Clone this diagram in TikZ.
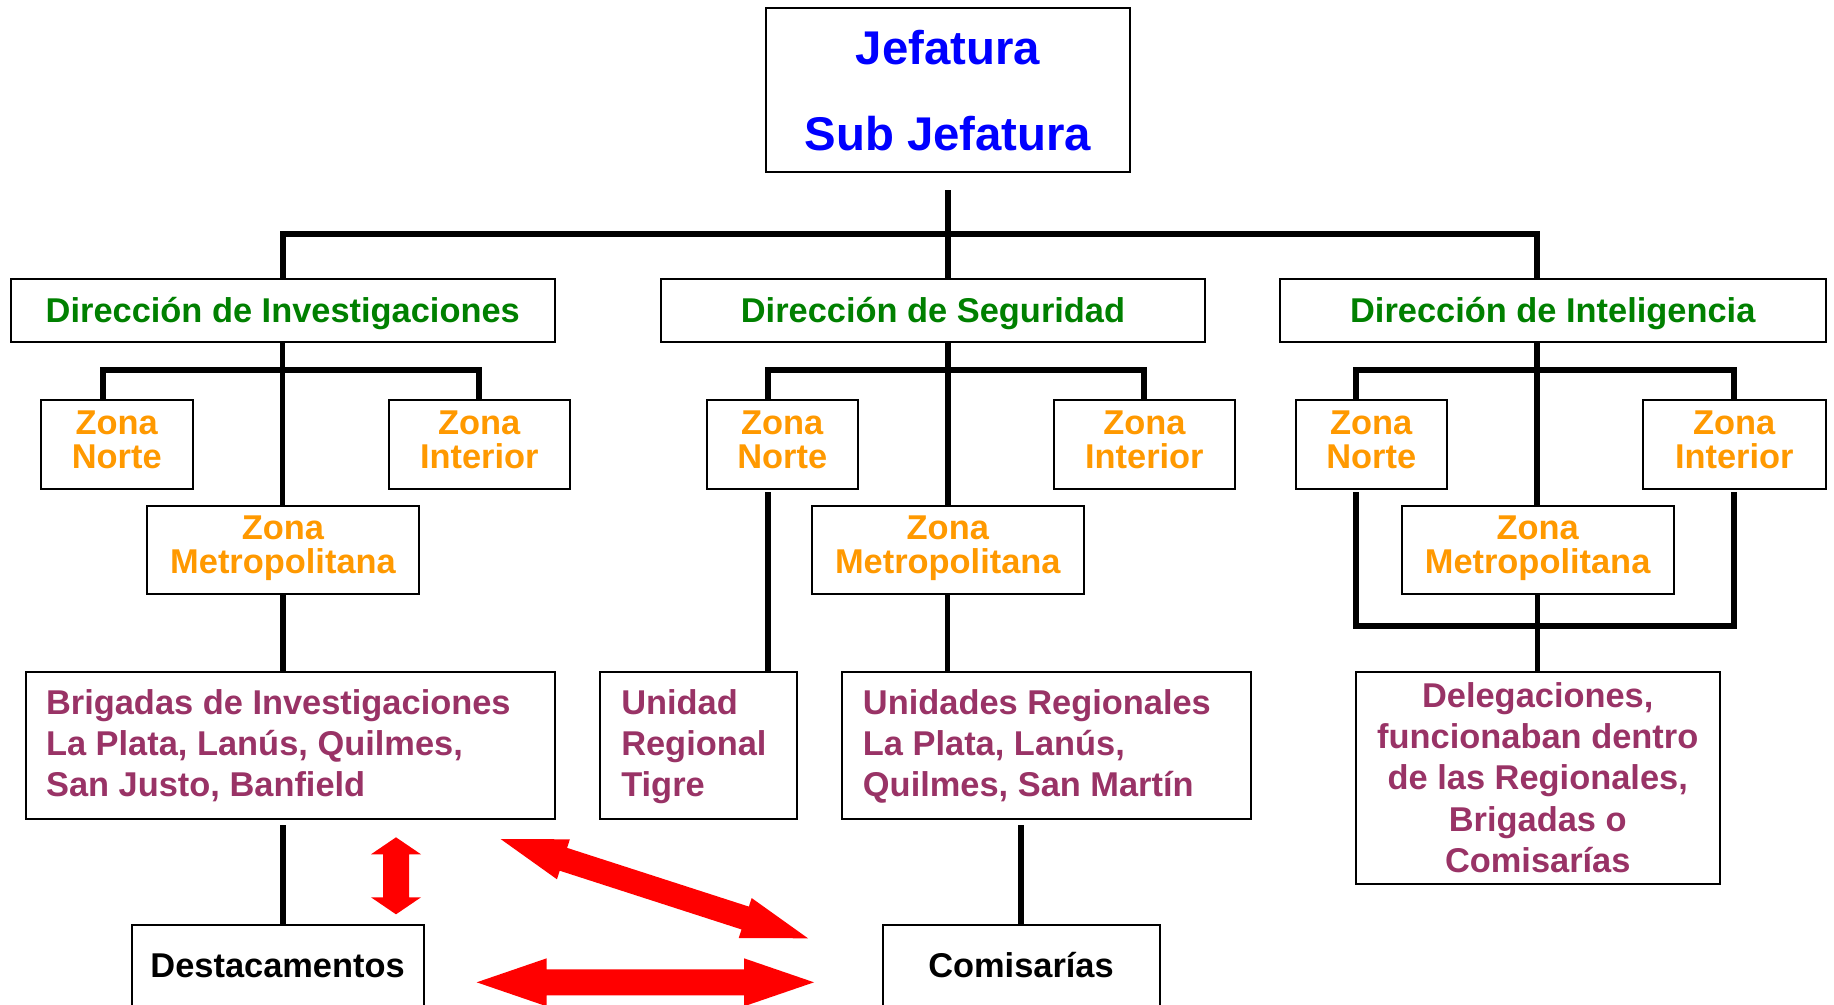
\documentclass[tikz,border=0pt]{standalone}
\usepackage{fontspec}
\setmainfont{Liberation Sans}
\usetikzlibrary{calc,fit}
\definecolor{jblue}{RGB}{0,0,255}
\definecolor{dgreen}{RGB}{0,128,0}
\definecolor{zorange}{RGB}{255,153,0}
\definecolor{umaroon}{RGB}{153,51,102}
\definecolor{ared}{RGB}{255,0,0}
\newcommand{\blockarrow}[5]{%
  \coordinate (ba1) at ($(#1)!#3!(#2)$);
  \coordinate (ba2) at ($(#2)!#3!(#1)$);
  \fill[ared] (#1) -- ($(ba1)!#4!90:(#2)$) -- ($(ba1)!#5!90:(#2)$)
    -- ($(ba2)!#5!-90:(#1)$) -- ($(ba2)!#4!-90:(#1)$) -- (#2)
    -- ($(ba2)!#4!90:(#1)$) -- ($(ba2)!#5!90:(#1)$)
    -- ($(ba1)!#5!-90:(#2)$) -- ($(ba1)!#4!-90:(#2)$) -- cycle;}
\begin{document}
\begin{tikzpicture}[x=0.75pt,y=-0.75pt,
  box/.style={draw=black, line width=1.5pt, inner sep=0pt},
  conn/.style={line width=4pt, black},
  barline/.style={line width=4.5pt, black, line cap=rect},
  ttl/.style={font=\bfseries\fontsize{35.5}{64.5}\selectfont, text=jblue, align=center, inner sep=0pt, anchor=base},
  dirtext/.style={font=\bfseries\fontsize{25.8}{31}\selectfont, text=dgreen, inner sep=0pt, anchor=base},
  zone/.style={font=\bfseries\fontsize{25.8}{25.5}\selectfont, text=zorange, align=center, inner sep=0pt, anchor=base},
  unit/.style={font=\bfseries\fontsize{25.8}{31}\selectfont, text=umaroon, align=left, inner sep=0pt, anchor=base west},
  unitc/.style={font=\bfseries\fontsize{25.8}{31}\selectfont, text=umaroon, align=center, inner sep=0pt, anchor=base},
  blk/.style={font=\bfseries\fontsize{25.8}{31}\selectfont, text=black, inner sep=0pt, anchor=base}
]
\useasboundingbox[fill=white] (0,0) rectangle (1834,1004);

% boxes
\node[box, fit={(766,8) (1130,172)}] (jef) {};
\node[box, fit={(10.6,279) (555,342)}] (dinv) {};
\node[box, fit={(661,279) (1205,342)}] (dseg) {};
\node[box, fit={(1280,279) (1825.5,342)}] (dint) {};
\node[box, fit={(41,400) (192.5,489)}] (zni) {};
\node[box, fit={(388.5,400) (570,489)}] (zii) {};
\node[box, fit={(147,505.7) (419,594)}] (zmi) {};
\node[box, fit={(706.5,400) (858,489)}] (zns) {};
\node[box, fit={(1053.7,400) (1235,489)}] (zis) {};
\node[box, fit={(811.6,505.7) (1084,594)}] (zms) {};
\node[box, fit={(1295.5,400) (1447,489)}] (znt) {};
\node[box, fit={(1643,400) (1825.5,489)}] (zit) {};
\node[box, fit={(1401.5,505.7) (1673.7,594)}] (zmt) {};
\node[box, fit={(26.4,672) (555,819)}] (brig) {};
\node[box, fit={(600,672) (797,819)}] (tig) {};
\node[box, fit={(842,672) (1250.5,819)}] (ureg) {};
\node[box, fit={(1356,672) (1719.5,884)}] (del) {};
\node[box, fit={(131.5,925) (423.7,1015)}] (dest) {};
\node[box, fit={(882.5,925) (1159.5,1015)}] (comi) {};

% texts (anchor = baseline of the last line)
\node[ttl] (t-jef) at (jef.center |- 0,150) {Jefatura\\Sub Jefatura};
\node[dirtext] (t-dinv) at (dinv.center |- 0,322) {Dirección de Investigaciones};
\node[dirtext] (t-dseg) at (dseg.center |- 0,322) {Dirección de Seguridad};
\node[dirtext] (t-dint) at (dint.center |- 0,322) {Dirección de Inteligencia};
\node[zone] (t-zni) at (zni.center |- 0,468) {Zona\\Norte};
\node[zone] (t-zii) at (zii.center |- 0,468) {Zona\\Interior};
\node[zone] (t-zmi) at (zmi.center |- 0,573.3) {Zona\\Metropolitana};
\node[zone] (t-zns) at (zns.center |- 0,468) {Zona\\Norte};
\node[zone] (t-zis) at (zis.center |- 0,468) {Zona\\Interior};
\node[zone] (t-zms) at (zms.center |- 0,573.3) {Zona\\Metropolitana};
\node[zone] (t-znt) at (znt.center |- 0,468) {Zona\\Norte};
\node[zone] (t-zit) at (zit.center |- 0,468) {Zona\\Interior};
\node[zone] (t-zmt) at (zmt.center |- 0,573.3) {Zona\\Metropolitana};
\node[unit] (t-brig) at (45.8,796.7) {Brigadas de Investigaciones\\La Plata, Lanús, Quilmes,\\San Justo, Banfield};
\node[unit] (t-tig) at (621,796.7) {Unidad\\Regional\\Tigre};
\node[unit] (t-ureg) at (862.7,796.7) {Unidades Regionales\\La Plata, Lanús,\\Quilmes, San Martín};
\node[unitc] (t-del) at (del.center |- 0,872.5) {Delegaciones,\\funcionaban dentro\\de las Regionales,\\Brigadas o\\Comisarías};
\node[blk] (t-dest) at (dest.center |- 0,977.7) {Destacamentos};
\node[blk] (t-comi) at (comi.center |- 0,977.7) {Comisarías};

% junction coordinates
\coordinate (tbl) at (283,234);
\coordinate (tbr) at (1537,234);
\coordinate (ibl) at (103,370);
\coordinate (ibr) at (479,370);
\coordinate (sbl) at (768,370);
\coordinate (sbr) at (1144,370);
\coordinate (nbl) at (1356,370);
\coordinate (nbr) at (1734,370);
\coordinate (lbl) at (1356,626);
\coordinate (lbr) at (1734,626);

% top level
\draw[conn, shorten <=12.75pt] (jef.south) -- (jef.south |- dseg.north);
\draw[barline] (tbl) -- (tbr);
\draw[conn] (tbl) -- (tbl |- dinv.north);
\draw[conn] (tbr) -- (tbr |- dint.north);

% investigaciones
\draw[conn] (dinv.south) -- (dinv.south |- zmi.north);
\draw[barline] (ibl) -- (ibr);
\draw[conn] (ibl) -- (ibl |- zni.north);
\draw[conn] (ibr) -- (ibr |- zii.north);
\draw[conn] (zmi.south) -- (zmi.south |- brig.north);
\draw[conn, shorten <=3.75pt] (brig.south -| zmi.south) -- (dest.north -| zmi.south);

% seguridad
\draw[conn] (jef.south |- dseg.south) -- (jef.south |- zms.north);
\draw[barline] (sbl) -- (sbr);
\draw[conn] (sbl) -- (sbl |- zns.north);
\draw[conn] (sbr) -- (sbr |- zis.north);
\draw[conn, shorten <=1.5pt] (zns.south -| sbl) -- (tig.north -| sbl);
\draw[conn] (zms.south) -- (zms.south |- ureg.north);
\draw[conn, shorten <=3.75pt] (ureg.south -| comi.north) -- (comi.north);

% inteligencia
\draw[conn] (tbr |- dint.south) -- (tbr |- zmt.north);
\draw[barline] (nbl) -- (nbr);
\draw[conn] (nbl) -- (nbl |- znt.north);
\draw[conn] (nbr) -- (nbr |- zit.north);
\draw[conn, shorten <=1.5pt] (znt.south -| lbl) -- (lbl);
\draw[conn, shorten <=1.5pt] (zit.south -| lbr) -- (lbr);
\draw[barline] (lbl) -- (lbr);
\draw[conn] (zmt.south) -- (zmt.south |- del.north);

% red arrows
\coordinate (va1) at (396,837.3);
\coordinate (va2) at (396,914.3);
\coordinate (da1) at (500.6,839);
\coordinate (da2) at (808,938.3);
\coordinate (ha1) at (476.7,982.3);
\coordinate (ha2) at (814,982.3);
\blockarrow{va1}{va2}{12.75pt}{18.75pt}{9.75pt}
\blockarrow{da1}{da2}{49.5pt}{15.75pt}{9pt}
\blockarrow{ha1}{ha2}{52.5pt}{18pt}{9.75pt}
\end{tikzpicture}
\end{document}
